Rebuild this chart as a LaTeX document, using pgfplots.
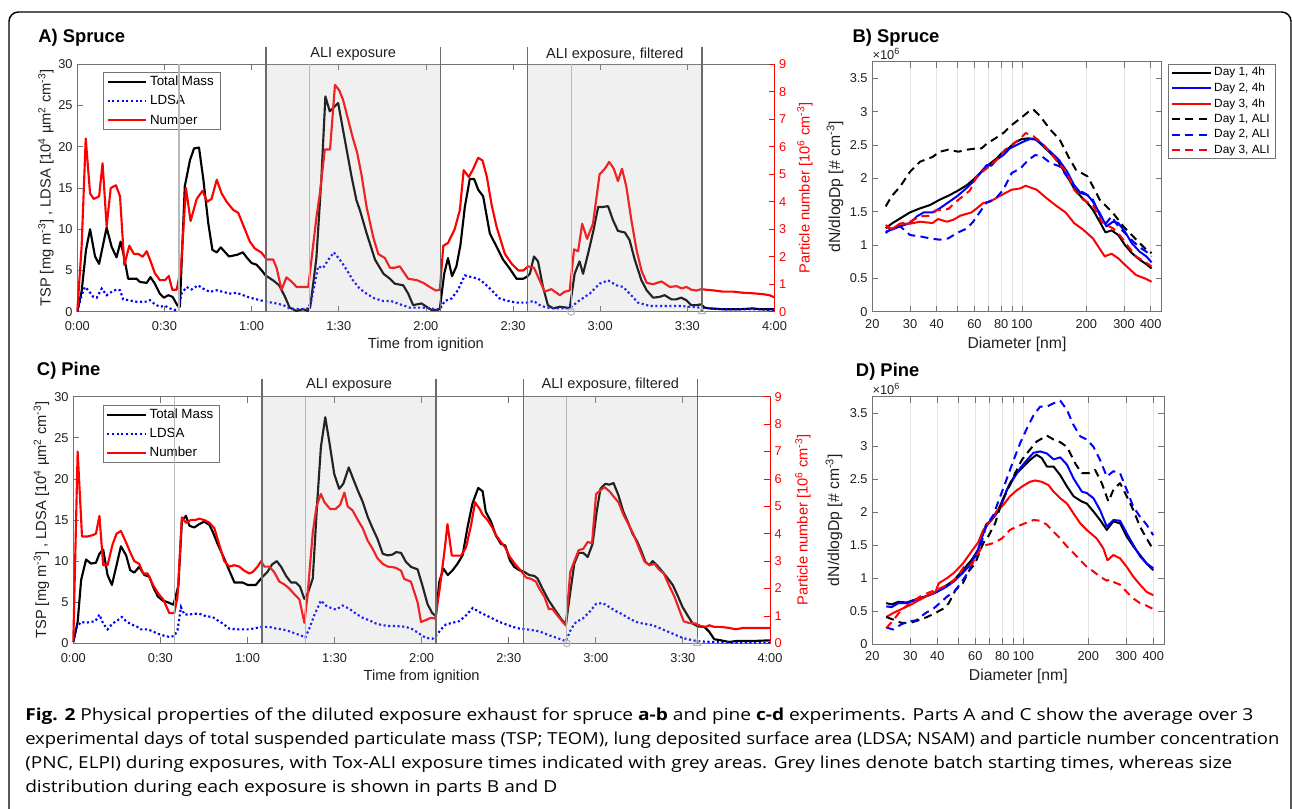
\documentclass[border=0pt]{standalone}
\usepackage{pgfplots}
\pgfplotsset{compat=1.18}
\usepackage{fontspec}
\usepackage{graphicx}
\setmainfont{Liberation Sans}
\newfontfamily\capfont{Open Sans}

\definecolor{axgray}{gray}{0.45}
\definecolor{txt}{gray}{0.12}
\definecolor{lightline}{gray}{0.72}
\definecolor{darkline}{gray}{0.42}
\definecolor{shade}{gray}{0.70}

\pgfplotsset{
  myBase/.style={scale only axis, anchor=south west, tick align=inside,
    axis line style={axgray, line width=0.6pt},
    every tick/.style={axgray, line width=0.6pt}, major tick length=4.5pt,
    ticklabel style={font=\fontsize{9.6}{11}\selectfont, text=txt},
    /pgf/number format/assume math mode=true,
    label style={font=\fontsize{11}{13}\selectfont, text=txt},
    legend cell align=left,
    legend image code/.code={\draw[##1] (0pt,0pt) -- (29pt,0pt);},
  },
  timeAx/.style={myBase, xmin=0, xmax=240, xtick={0,30,...,240},
    xticklabels={0:00,0:30,1:00,1:30,2:00,2:30,3:00,3:30,4:00},
    xticklabel style={yshift=-3.8pt}},
  massL/.style={black, line width=1.6pt, line join=round},
  ldsaL/.style={blue, line width=1.6pt, dash pattern=on 1.6pt off 1.9pt},
  numbL/.style={red, line width=1.6pt, line join=round},
  sizeAx/.style={myBase, xmin=20, xmax=450, ymin=0, ymax=3.75, clip=false,
    xtick={20,30,40,50,60,70,80,90,100,200,300,400},
    xticklabels={20,30,40,{},60,{},80,{},100,200,300,400},
    xticklabel style={yshift=-2.2pt},
    ytick={0,0.5,1,1.5,2,2.5,3,3.5},
    xtick pos=both, ytick pos=both, xmajorgrids, grid style={gray!22, line width=0.5pt},
    label style={font=\fontsize{11.8}{13}\selectfont, text=txt},
    xlabel={Diameter [nm]},
    xlabel style={at={(axis description cs:0.5,0)}, anchor=base, yshift=-27.6pt},
  },
  sizeL/.style={line width=1.5pt, line join=round},
  dshL/.style={line width=1.5pt, line join=round, dash pattern=on 6pt off 4pt},
  shadeOv/.style={draw=none, fill=shade, fill opacity=0.2, forget plot},
  tsLegend/.style={legend style={at={(#1)}, anchor=north west, draw=axgray, fill=white,
    font=\fontsize{10}{11}\selectfont, inner xsep=2.5pt, inner ysep=1.3pt, row sep=3.2pt,
    nodes={inner ysep=1.3pt, inner xsep=2pt}}},
}

\begin{document}
\begin{tikzpicture}
\path[use as bounding box] (0pt,0pt) rectangle (969pt,-606pt);

% ===================== Panel A =====================
\begin{axis}[timeAx, at={(57.975pt,-233.775pt)}, width=522.9pt, height=185.55pt,
  ymin=0, ymax=30, ytick={0,5,...,30}, xtick pos=both, ytick pos=left,
  xlabel={Time from ignition},
  xlabel style={at={(axis description cs:0.5,0)}, anchor=base, yshift=-27.8pt},
  tsLegend={0.0369,0.968},
]
\addplot[massL] coordinates {(0,0) (1.5,2.5) (3,7.5) (4.4,10) (6.1,6.7) (7.5,5.8) (10.1,10.2) (11.8,7.9) (13.5,6.6) (14.9,8.5) (16.1,6.7) (17.5,4.0) (20.4,4.0) (21.6,3.6) (23.9,3.5) (25.2,4.2) (26.7,3.4) (28.4,2.2) (29.8,1.7) (31.3,2.0) (32.8,1.8) (34.4,0.8) (35.3,0.6) (37.0,15.2) (38.8,18.4) (40.2,19.8) (41.9,19.9) (43.4,16) (45.1,10.7) (46.5,7.5) (48,7.2) (49.4,7.8) (52.2,6.7) (55,6.9) (57,7.2) (58.5,6.5) (60,5.9) (61.7,5.7) (63.5,5.0) (64.8,4.4) (67.4,3.8) (69.5,3.2) (71.5,1.8) (73.1,0.5) (75.4,0.1) (77.7,0.3) (79.4,0.1) (80.2,0.6) (82.3,6.5) (84,16) (85.4,26.1) (86.9,24.3) (89.8,25.3) (91.5,22) (94.4,16.4) (96.1,13.5) (97.3,12.3) (99.6,9.5) (102.5,6.3) (105.4,4.6) (107.6,4.0) (109.3,3.4) (112.2,3.2) (113.9,2.2) (115.6,0.8) (118.5,1.0) (120.2,0.6) (122,0.2) (124.2,0.2) (124.8,0.4) (126.3,4.6) (127.6,6.5) (129,4.3) (130.5,5.5) (131.9,8.1) (133.4,12.7) (135.1,16.1) (136.6,16.1) (138,14.8) (139.7,14.0) (142,9.5) (144.3,7.9) (146.6,6.3) (148.9,5.2) (151.2,4.0) (153.5,4.0) (154.6,4.2) (155.8,4.6) (157.2,6.7) (158.6,6.1) (160.3,3.0) (162,0.8) (163.8,0.4) (166.1,0.6) (168.4,0.5) (169.5,0.4) (171.2,4.6) (172.9,6.1) (174.1,4.6) (176,7.3) (177.7,9.9) (179.3,12.7) (181,12.7) (182.7,12.8) (184.4,11.1) (186.1,9.8) (188.5,9.6) (190.1,8.7) (191.9,6.3) (194.2,3.8) (196,2.6) (198.2,1.7) (200.5,1.8) (202.2,2.0) (204.5,1.5) (206.2,1.5) (207.9,1.7) (209.6,1.4) (211.3,0.8) (213.1,0.8) (214.8,0.9) (215.9,0.5) (217.7,0.4) (222.3,0.3) (228,0.3) (232.6,0.4) (235,0.3) (240,0.3)};
\addlegendentry{Total Mass}
\addplot[ldsaL] coordinates {(0,0) (1.5,2.0) (2.6,3.0) (3.8,2.6) (5.5,1.8) (6.7,1.7) (8.4,2.8) (10.1,2.0) (11.8,2.4) (13.5,2.7) (14.7,2.6) (15.8,1.5) (17.6,1.4) (20.4,1.2) (23.3,1.2) (25,1.4) (26.7,0.9) (28.4,0.6) (30.2,0.7) (31.9,0.4) (33.6,0.2) (34.8,0.5) (35.9,2.2) (37.6,3.0) (39.3,2.7) (41.6,3.2) (43.3,2.8) (45.6,2.4) (48,2.6) (50.2,2.4) (52.5,2.2) (54.8,2.3) (57.1,2.0) (59.4,1.7) (61.7,1.5) (65.2,1.2) (68.6,1.0) (70.9,0.8) (73.2,0.4) (76.6,0.3) (79.5,0.4) (80.6,1.4) (82.9,5.5) (84.6,5.3) (86.4,6.3) (88.3,7.2) (90.4,6.3) (92.7,5.1) (94.9,3.8) (97.2,2.8) (99.5,2.2) (102.4,1.6) (105.3,1.3) (108,1.3) (111,0.9) (114.4,0.5) (119,0.5) (123.6,0.3) (124.8,0.3) (126.5,1.3) (128.8,1.6) (131,2.6) (133.4,4.4) (135.7,4.2) (138,4.0) (140.3,3.4) (142.6,2.6) (145.4,1.6) (148.3,1.3) (151.2,1.1) (154.6,1.1) (157.1,1.3) (159.2,0.8) (161.5,0.5) (165,0.4) (168.4,0.4) (170.1,0.6) (173,1.4) (176.4,2.2) (179.8,3.4) (182.7,3.8) (185.6,3.2) (187.9,3.0) (190.1,2.2) (193,1.1) (197,0.7) (202.8,0.7) (207.4,0.7) (210.8,0.6) (214.2,0.5) (217.7,0.4) (222.3,0.3) (233.8,0.3) (240,0.2)};
\addlegendentry{LDSA}
\addlegendimage{numbL}
\addlegendentry{Number}
\end{axis}

\begin{axis}[timeAx, at={(57.975pt,-233.775pt)}, width=522.9pt, height=185.55pt,
  ymin=0, ymax=9, ytick={0,1,...,9}, axis x line=none, axis y line*=right, clip=false,
  axis line style={red}, every tick/.style={red, line width=0.6pt},
  yticklabel style={text=red},
]
\addplot[numbL] coordinates {(0,0) (1.5,2.4) (2.9,6.3) (4.4,4.3) (5.7,4.1) (7.5,4.2) (8.7,5.4) (10.1,3.1) (11.5,4.5) (13.3,4.6) (14.7,4.2) (16.2,1.7) (17.9,2.4) (19.5,2.1) (21,2.1) (22.5,2.0) (23.9,2.2) (25,1.9) (26.7,1.4) (28.4,1.15) (30.2,1.15) (31.5,1.3) (32.7,0.8) (34.2,0.8) (35.7,1.6) (37.4,4.5) (39,3.3) (41.1,4.1) (43.1,4.4) (44.7,4.0) (46.2,4.1) (48,4.8) (49.7,4.3) (51.4,4.0) (53.7,3.7) (55.4,3.6) (57.1,3.15) (59.4,2.55) (61.1,2.3) (63.4,2.15) (65.2,1.9) (67.4,1.9) (68.6,1.6) (70.3,0.8) (72,1.25) (73.7,1.1) (75.5,0.9) (77.8,0.9) (79.5,0.9) (82.4,3.5) (83.5,4.3) (85.2,5.9) (87,5.9) (88.7,8.25) (90.2,8.05) (91.5,7.7) (93.2,7.0) (94.9,6.3) (96.3,5.8) (97.8,5.0) (99.6,3.8) (101.9,2.7) (103.6,2.1) (105.9,1.95) (107.6,1.6) (109.3,1.6) (111,1.65) (113.9,1.2) (116.8,1.15) (119.1,1.05) (121.3,0.9) (123.4,0.77) (124.8,0.8) (126,2.4) (127.6,2.5) (129.9,3.0) (131.7,3.7) (133,5.15) (134.8,4.9) (136.3,5.2) (138,5.6) (139.5,5.5) (141,4.9) (142.6,3.9) (144.3,3.1) (147.2,2.1) (149.5,1.75) (151.8,1.5) (153.5,1.5) (155.2,1.65) (157.2,1.6) (158.6,1.27) (160.9,0.73) (163.2,0.82) (166.1,0.6) (167.8,0.73) (169.5,0.77) (171,2.27) (172.4,2.2) (173.8,3.2) (175.5,2.65) (177.5,3.2) (179.8,5.0) (181.6,5.2) (183.1,5.45) (184.7,5.2) (186.1,4.75) (187.5,5.2) (189,4.55) (190.7,3.35) (192.5,2.25) (194.2,1.5) (196,1.05) (198.2,1.0) (201.1,1.1) (204,0.9) (206.3,0.93) (208,0.85) (209.7,0.9) (211.4,0.8) (213.1,0.77) (214.8,0.82) (216.5,0.8) (219.4,0.77) (222.3,0.73) (225.7,0.73) (229.1,0.69) (232.6,0.67) (236,0.64) (238.3,0.6) (240,0.52)};
\addplot[shadeOv] coordinates {(65,0) (65,9) (125,9) (125,0)} \closedcycle;
\addplot[shadeOv] coordinates {(155,0) (155,9) (215,9) (215,0)} \closedcycle;
\addplot[lightline, line width=0.8pt] coordinates {(35,0) (35,9)};
\addplot[lightline, line width=0.8pt] coordinates {(80,0) (80,9)};
\addplot[lightline, line width=0.8pt] coordinates {(170,0) (170,9)};
\addplot[darkline, line width=1pt] coordinates {(65,0) (65,9.64)};
\addplot[darkline, line width=1pt] coordinates {(125,0) (125,9.64)};
\addplot[darkline, line width=1pt] coordinates {(155,0) (155,9.64)};
\addplot[darkline, line width=1pt] coordinates {(215,0) (215,9.64)};
\addplot[only marks, mark=o, mark size=2.6pt, lightline, mark options={line width=0.8pt}] coordinates {(170,0)};
\addplot[only marks, mark=triangle, mark size=3pt, lightline, mark options={line width=0.8pt}] coordinates {(215,0)};
\node[font=\fontsize{10.9}{12}\selectfont, text=txt] at (axis cs:95,9.36) {ALI exposure};
\node[font=\fontsize{10.9}{12}\selectfont, text=txt] at (axis cs:185,9.36) {ALI exposure, filtered};
\end{axis}

% ===================== Panel C =====================
\begin{axis}[timeAx, at={(54.975pt,-482.475pt)}, width=522.5pt, height=184.95pt,
  ymin=0, ymax=30, ytick={0,5,...,30}, xtick pos=both, ytick pos=left,
  xlabel={Time from ignition},
  xlabel style={at={(axis description cs:0.5,0)}, anchor=base, yshift=-27.8pt},
  tsLegend={0.042,0.966},
]
\addplot[massL] coordinates {(0,0.15) (1.5,2.6) (2.7,7.7) (4.4,10.2) (6.1,9.7) (7.8,9.8) (9,10.9) (10.3,11.4) (11.8,8.3) (13.3,7.1) (14.9,9.5) (16.4,11.8) (18.2,10.7) (19.6,8.9) (21,8.6) (22.7,9.3) (24.5,8.3) (26.2,8.1) (27.6,6.8) (29.1,5.7) (30.8,5.2) (32.5,5.0) (34.5,4.7) (36.2,7.0) (37.4,14.9) (38.8,15.5) (40,14.3) (41.7,14.1) (43.4,14.5) (45.1,14.8) (46.9,14.4) (48,13.6) (49.7,12.1) (51.5,10.7) (53.2,9.3) (55.5,7.4) (58.3,7.4) (60.1,7.1) (62.9,7.1) (65.2,8.1) (66.9,8.7) (68.5,9.6) (70.1,10.0) (71.6,9.3) (73.3,8.2) (75,7.4) (76.7,7.4) (78.1,6.9) (79.6,5.4) (80.7,6.0) (82.5,7.9) (84,17) (85.3,23.9) (86.8,27.5) (88.2,24.5) (89.9,20.6) (91.6,18.8) (93,19.4) (94.9,21.4) (96.2,20.2) (98,18.6) (99.7,17.2) (101.4,15.4) (103.1,14.0) (104.8,12.7) (106.6,10.9) (108.3,10.7) (110,10.8) (111.2,11.1) (112.9,11.0) (114.6,9.9) (116.3,9.3) (118.6,9.0) (120.3,7.0) (122,4.8) (123.6,3.7) (124.9,3.3) (126.1,7.5) (127.5,9.1) (129,8.3) (130.7,8.9) (132.4,9.7) (134.1,10.7) (135.8,14.1) (137.5,17) (139.5,18.9) (141,18.5) (142.1,16.0) (143.9,14.8) (145.6,13.1) (147.3,12.1) (148.8,11.9) (150.4,10.1) (151.9,9.3) (153.6,8.9) (155.3,8.7) (157.1,8.3) (158.8,8.2) (159.9,7.9) (161.7,6.6) (163.8,5.2) (165.7,4.2) (168,3.0) (169.7,2.3) (171.2,6.2) (172.6,9.7) (174.1,11.0) (175.7,11.0) (177.2,10.5) (178.9,12.1) (180.3,16.0) (181.6,18.8) (183.3,19.4) (184.7,19.3) (186.1,19.5) (187.8,18.0) (189.5,16.0) (191,14.8) (192.7,13.3) (194.1,12.5) (195.6,11.3) (197.1,9.9) (198.5,9.5) (199.6,10.0) (201.3,9.4) (203,8.7) (204.8,7.9) (206.5,7.1) (208.2,5.8) (209.9,4.4) (211.6,3.4) (213.4,2.4) (215.1,2.06) (217.4,2.0) (219.1,1.4) (220.8,0.5) (223.1,0.36) (226,0.16) (228.3,0.28) (234,0.28) (240,0.36)};
\addlegendentry{Total Mass}
\addplot[ldsaL] coordinates {(0,0.15) (1.2,2.0) (2.7,2.6) (4.4,2.5) (6.1,2.6) (7.6,2.7) (9,3.5) (10.3,2.4) (11.8,1.7) (13.5,2.4) (15.3,2.8) (16.7,3.2) (18.2,2.7) (19.9,2.3) (21.6,2.1) (23.3,1.7) (25.6,1.7) (27.3,1.46) (29.1,1.17) (30.8,0.97) (33.1,0.77) (34.8,0.89) (35.9,1.6) (37.1,4.4) (38.3,3.5) (40,3.5) (41.7,3.6) (43.4,3.6) (45.7,3.3) (48,3.2) (49.7,2.8) (51.5,2.4) (53.7,1.8) (56,1.7) (58.3,1.7) (60.6,1.7) (62.9,1.86) (65.2,2.0) (67.5,2.0) (69.8,1.8) (72.1,1.7) (74.4,1.46) (76.7,1.17) (78.4,0.97) (79.9,0.68) (81.3,1.8) (83,3.4) (85.3,5.2) (87,4.6) (88.8,4.3) (90.5,4.1) (92.8,4.6) (95.1,4.2) (97.4,3.6) (99.7,3.1) (102,2.8) (104.3,2.4) (106.6,2.2) (108.9,2.1) (111.2,2.1) (114.6,2.0) (116.9,1.7) (119.2,1.17) (121.5,0.65) (123.8,0.56) (124.9,0.89) (126.7,1.7) (128.4,2.3) (130.7,2.5) (133,2.7) (135.3,3.4) (137.6,4.3) (139.9,3.8) (142.2,3.4) (144.5,3.0) (146.8,2.6) (149.1,2.3) (151.4,2.0) (153.6,1.8) (157.1,1.66) (160.5,1.46) (164,0.97) (167.4,0.56) (169.7,0.24) (171.4,1.7) (173.2,2.6) (175.5,3.0) (177.8,3.8) (180.1,4.8) (182.4,4.9) (184.7,4.4) (187,3.9) (189.3,3.5) (191.6,3.0) (193.9,2.6) (196.2,2.4) (199.6,2.2) (203,1.7) (206.5,1.17) (209.9,0.65) (213.4,0.36) (215.7,0.24) (220.2,0.16) (228.3,0.08) (240,0.08)};
\addlegendentry{LDSA}
\addlegendimage{numbL}
\addlegendentry{Number}
\end{axis}

\begin{axis}[timeAx, at={(54.975pt,-482.475pt)}, width=522.5pt, height=184.95pt,
  ymin=0, ymax=9, ytick={0,1,...,9}, axis x line=none, axis y line*=right, clip=false,
  axis line style={red}, every tick/.style={red, line width=0.6pt},
  yticklabel style={text=red},
]
\addplot[numbL] coordinates {(0,0.05) (1.5,7.0) (3,3.9) (5,3.9) (6.7,3.95) (7.8,4.0) (9,4.65) (10.3,2.85) (11.8,2.85) (13.5,3.6) (14.9,4.0) (16.4,4.1) (17.9,3.75) (19.5,3.35) (21,3.0) (22.7,2.9) (24.1,2.55) (25.6,2.55) (27.6,2.1) (29.4,1.8) (31,1.6) (33.1,1.1) (34.8,1.1) (35.9,1.7) (37.4,4.6) (38.8,4.4) (40.5,4.5) (42,4.5) (43.4,4.55) (45.1,4.5) (46.9,4.4) (48.6,4.2) (50.3,3.6) (52,3.0) (53.7,2.8) (55.5,2.85) (57.2,2.8) (58.9,2.65) (60.6,2.55) (61.8,2.6) (63.5,2.8) (64.7,3.0) (65.8,2.8) (67.5,2.8) (69.2,2.6) (71,2.25) (72.7,2.15) (74.4,2.0) (76.1,1.8) (77.9,1.6) (79.6,0.75) (80.7,1.75) (82.5,4.05) (83.8,5.0) (85.3,5.45) (86.5,5.15) (88.5,4.9) (90.3,4.9) (91.9,5.05) (93.4,5.5) (94.5,5.0) (96.2,4.85) (98,4.5) (99.7,4.2) (101.4,3.75) (103.1,3.45) (104.8,3.1) (106.6,2.9) (108.3,2.8) (110,2.78) (111.2,2.75) (112.9,2.65) (114,2.35) (116.3,2.25) (118.6,1.5) (119.8,0.78) (121.5,0.85) (123.2,0.93) (124.7,0.9) (126.1,1.9) (127.8,3.3) (128.9,4.35) (130.4,3.2) (132.4,3.2) (133.6,3.2) (135.3,3.5) (137,4.3) (138.4,5.15) (140,4.9) (141,4.7) (142.7,4.5) (144.2,4.25) (145.6,3.95) (147.3,3.7) (148.8,3.5) (150.4,3.15) (152.5,2.85) (154.2,2.65) (156,2.4) (157.7,2.35) (159.4,2.25) (160.5,2.0) (162.3,1.7) (163.8,1.25) (165.1,1.25) (166.9,1.0) (168.6,0.78) (169.7,0.65) (171.2,2.6) (172.6,3.0) (174.1,3.4) (175.7,3.45) (177.2,3.7) (178.7,3.65) (180.1,5.45) (181.8,5.6) (183,5.7) (184.7,5.55) (186.2,5.35) (187.8,5.15) (189.5,4.7) (191.2,4.35) (192.9,4.0) (194.6,3.55) (196.7,3.0) (198.5,2.85) (200.2,2.9) (201.7,2.7) (203.4,2.55) (205.3,2.1) (207.1,1.7) (208.5,1.3) (210.3,0.8) (212.2,0.74) (214.5,0.72) (216.2,0.62) (218,0.6) (219.1,0.66) (220.8,0.6) (223.1,0.6) (226,0.56) (228.3,0.51) (230.6,0.56) (240,0.56)};
\addplot[shadeOv] coordinates {(65,0) (65,9) (125,9) (125,0)} \closedcycle;
\addplot[shadeOv] coordinates {(155,0) (155,9) (215,9) (215,0)} \closedcycle;
\addplot[lightline, line width=0.8pt] coordinates {(35,0) (35,9)};
\addplot[lightline, line width=0.8pt] coordinates {(80,0) (80,9)};
\addplot[lightline, line width=0.8pt] coordinates {(170,0) (170,9)};
\addplot[darkline, line width=1pt] coordinates {(65,0) (65,9.64)};
\addplot[darkline, line width=1pt] coordinates {(125,0) (125,9.64)};
\addplot[darkline, line width=1pt] coordinates {(155,0) (155,9.64)};
\addplot[darkline, line width=1pt] coordinates {(215,0) (215,9.64)};
\addplot[only marks, mark=o, mark size=2.6pt, lightline, mark options={line width=0.8pt}] coordinates {(170,0)};
\addplot[only marks, mark=triangle, mark size=3pt, lightline, mark options={line width=0.8pt}] coordinates {(215,0)};
\node[font=\fontsize{10.9}{12}\selectfont, text=txt] at (axis cs:95,9.42) {ALI exposure};
\node[font=\fontsize{10.9}{12}\selectfont, text=txt] at (axis cs:185,9.42) {ALI exposure, filtered};
\end{axis}

% ===================== Panel B =====================
\begin{axis}[sizeAx, xmode=log, at={(654.225pt,-233.775pt)}, width=217.05pt, height=187.5pt,
  legend style={at={(1,1)}, anchor=north west, xshift=4.7pt, yshift=-1.7pt,
    draw=axgray, fill=white, font=\fontsize{8.9}{10}\selectfont,
    inner xsep=2pt, inner ysep=1.2pt, row sep=1.6pt, nodes={inner ysep=1.1pt, inner xsep=2pt}},
]
\addplot[sizeL, black] coordinates {(23.1,1.25) (24.6,1.32) (27,1.40) (30,1.49) (33.4,1.55) (37.2,1.6) (41.3,1.68) (46,1.75) (50.5,1.82) (55.4,1.9) (60.2,2.0) (65.9,2.13) (70.9,2.22) (76.2,2.3) (80.5,2.38) (86.5,2.45) (93,2.54) (99.9,2.59) (107.4,2.6) (115.5,2.59) (124.1,2.5) (135.8,2.38) (148.6,2.24) (162.8,2.03) (175.3,1.85) (188.3,1.73) (202.5,1.63) (214.6,1.53) (230.9,1.35) (245.8,1.19) (262.4,1.22) (282,1.15) (303,1.0) (325.9,0.88) (355,0.78) (375,0.73) (403.5,0.65)};
\addlegendentry{Day 1, 4h}
\addplot[sizeL, blue] coordinates {(23.1,1.2) (24.6,1.23) (27,1.28) (30,1.33) (32.3,1.43) (34.8,1.49) (38.2,1.49) (41.3,1.55) (45.3,1.64) (49.7,1.73) (54.5,1.84) (59.2,1.95) (64.8,2.1) (68.5,2.2) (72,2.19) (76.2,2.28) (81.9,2.35) (87.9,2.45) (94.5,2.5) (101.5,2.55) (109,2.59) (117.2,2.58) (125.9,2.5) (135.8,2.4) (148.6,2.28) (162.8,2.1) (175.3,1.9) (188.3,1.78) (202.5,1.75) (214.6,1.65) (230.9,1.48) (248,1.28) (266.6,1.35) (282,1.33) (303,1.2) (325.9,1.03) (355,0.9) (381.3,0.83) (403.5,0.74)};
\addlegendentry{Day 2, 4h}
\addplot[sizeL, red] coordinates {(23.1,1.27) (24.6,1.24) (27,1.32) (30,1.32) (33.4,1.35) (38.2,1.33) (40.6,1.39) (44.6,1.35) (47.9,1.38) (51.5,1.44) (58.2,1.49) (61.5,1.55) (65.9,1.63) (70.9,1.65) (79.2,1.74) (89.6,1.83) (98.4,1.85) (104,1.89) (117.2,1.83) (130.7,1.7) (145.9,1.58) (159.9,1.49) (175.3,1.33) (193.3,1.23) (214.6,1.1) (243.7,0.83) (262.4,0.87) (282,0.8) (308.4,0.68) (341.5,0.55) (375,0.5) (403.5,0.45)};
\addlegendentry{Day 3, 4h}
\addplot[dshL, black] coordinates {(23.1,1.58) (24.6,1.73) (27,1.88) (30,2.1) (33.4,2.25) (38.2,2.32) (41.3,2.4) (45.3,2.43) (50.5,2.4) (55.4,2.43) (61.5,2.45) (64.8,2.45) (68.5,2.52) (75.1,2.6) (81.9,2.68) (89.6,2.8) (98.4,2.9) (107.4,3.0) (113.4,3.03) (121.9,2.93) (135.8,2.73) (150.3,2.58) (164.6,2.33) (178.7,2.13) (202.5,2.03) (214.6,1.88) (230.9,1.68) (248,1.58) (266.6,1.48) (297.8,1.28) (325.9,1.15) (355,1.03) (381.3,0.93) (403.5,0.88)};
\addlegendentry{Day 1, ALI}
\addplot[dshL, blue] coordinates {(23.1,1.18) (24.6,1.25) (27,1.28) (30,1.15) (33.4,1.13) (37.2,1.1) (41.3,1.08) (45.3,1.1) (49.7,1.18) (55.4,1.25) (59.2,1.35) (63.8,1.5) (68.5,1.64) (75.1,1.69) (81.9,1.83) (89.6,2.08) (98.4,2.15) (107.4,2.28) (115.5,2.35) (124.1,2.33) (135.8,2.23) (150.3,2.18) (164.6,2.0) (178.7,1.85) (202.5,1.75) (214.6,1.68) (230.9,1.45) (248,1.33) (262.4,1.43) (282,1.28) (303,1.18) (331.8,1.05) (361,0.95) (381.3,0.9) (403.5,0.83)};
\addlegendentry{Day 2, ALI}
\addplot[dshL, red] coordinates {(23.1,1.3) (24.6,1.24) (27,1.32) (30,1.35) (33.4,1.43) (37.2,1.44) (39.9,1.52) (45.3,1.54) (48.8,1.64) (52.4,1.72) (57.2,1.82) (61.5,2.03) (68.5,2.15) (76.2,2.28) (83.4,2.43) (91.2,2.52) (98.4,2.6) (104.2,2.68) (113.4,2.63) (124.1,2.53) (135.8,2.38) (148.6,2.23) (162.8,2.08) (175.3,1.83) (193.3,1.68) (214.6,1.6) (235.6,1.35) (248,1.3) (266.6,1.25) (288,1.14) (313.6,0.98) (341.5,0.83) (375,0.75) (403.5,0.68)};
\addlegendentry{Day 3, ALI}
\node[anchor=base west, font=\fontsize{9.6}{11}\selectfont, text=txt, inner sep=0pt, yshift=2pt] at (rel axis cs:0,1) {×10\textsuperscript{6}};
\end{axis}

% ===================== Panel D =====================
\begin{axis}[sizeAx, xmode=log, at={(654.225pt,-483pt)}, width=219pt, height=185.475pt]
\addplot[sizeL, black] coordinates {(23.2,0.62) (24.6,0.6) (26.4,0.64) (28.8,0.63) (32,0.68) (35.9,0.73) (39.9,0.79) (43.7,0.88) (47.8,0.97) (52.5,1.12) (57.5,1.27) (61.8,1.43) (65.3,1.68) (67.2,1.81) (71.3,1.88) (75.3,1.98) (80.9,2.21) (86.8,2.44) (93.2,2.59) (100.1,2.69) (107.4,2.79) (115.3,2.87) (121.8,2.82) (128.8,2.69) (138.2,2.69) (148.4,2.56) (159.3,2.39) (171,2.24) (186.8,2.16) (196.9,2.13) (211.4,2.01) (226.9,1.88) (243.6,1.73) (261.5,1.86) (280.7,1.83) (301.3,1.63) (323.5,1.48) (347.3,1.35) (372.8,1.22) (400,1.12)};
\addplot[sizeL, blue] coordinates {(23.2,0.57) (24.6,0.56) (26.4,0.62) (28.8,0.62) (32,0.67) (35.9,0.73) (39.2,0.78) (43.7,0.86) (47.8,0.95) (52.5,1.08) (57.5,1.22) (61.8,1.43) (64.4,1.63) (67.2,1.78) (72.8,1.93) (78.3,2.06) (84,2.34) (90.2,2.51) (96.9,2.67) (104,2.79) (111.6,2.9) (119.8,2.92) (128.6,2.89) (138.2,2.8) (148.4,2.83) (159.3,2.72) (171,2.51) (186.8,2.31) (196.9,2.29) (211.4,2.21) (226.9,2.03) (243.6,1.78) (261.5,1.88) (280.7,1.87) (301.3,1.68) (323.5,1.5) (347.3,1.33) (372.8,1.22) (400,1.15)};
\addplot[sizeL, red] coordinates {(23.2,0.41) (25,0.47) (27.3,0.53) (29.9,0.59) (32.7,0.66) (35.9,0.73) (39.2,0.79) (40.6,0.92) (44.4,1.0) (47.8,1.08) (52.5,1.22) (57.5,1.4) (61.8,1.54) (65.3,1.73) (70.3,1.86) (75.5,2.02) (80.9,2.11) (86.8,2.24) (93.2,2.33) (100.1,2.4) (107.4,2.46) (113.4,2.48) (121.8,2.46) (130.8,2.41) (138.2,2.31) (148.4,2.21) (159.3,2.13) (171,1.98) (183.5,1.83) (196.9,1.73) (218.8,1.6) (235,1.45) (245.3,1.27) (261.5,1.35) (280.7,1.3) (301.3,1.17) (323.5,1.02) (347.3,0.9) (372.8,0.79) (400,0.74)};
\addplot[dshL, black] coordinates {(23.2,0.41) (25,0.37) (27.3,0.32) (29.9,0.32) (32.7,0.36) (35.9,0.41) (39.2,0.47) (42.8,0.54) (45.2,0.62) (48.6,0.82) (52.5,0.92) (55.8,1.1) (59.8,1.22) (65.3,1.53) (68.8,1.63) (74.1,1.83) (79.6,2.16) (85.4,2.36) (91.7,2.59) (98.4,2.79) (105.7,2.92) (115.3,3.07) (128.8,3.16) (138.2,3.1) (148.4,3.06) (159.3,2.99) (175.4,2.72) (186.8,2.59) (200.5,2.59) (215.3,2.64) (231,2.44) (248,2.16) (261.5,2.34) (280.7,2.44) (301.3,2.24) (323.5,2.03) (347.3,1.78) (372.8,1.6) (400,1.43)};
\addplot[dshL, blue] coordinates {(23.2,0.25) (25,0.22) (27.3,0.3) (29.4,0.34) (32,0.36) (35.3,0.47) (38.5,0.54) (41.4,0.63) (44.4,0.72) (47.8,0.79) (51.3,0.92) (55.1,1.07) (59.2,1.27) (63.6,1.5) (67.2,1.78) (72.8,1.96) (78.3,2.24) (84,2.51) (90.2,2.79) (96.9,3.05) (104,3.27) (111.6,3.47) (119.8,3.6) (128.6,3.6) (138.2,3.65) (148.4,3.69) (159.3,3.55) (171,3.32) (183.5,3.15) (196.9,3.1) (211.4,2.99) (226.9,2.79) (243.6,2.54) (261.5,2.62) (280.7,2.59) (301.3,2.34) (323.5,2.08) (347.3,1.93) (372.8,1.81) (400,1.65)};
\addplot[dshL, red] coordinates {(23.2,0.24) (25,0.36) (27.3,0.52) (29.9,0.62) (33.3,0.72) (37.1,0.79) (39.6,0.82) (42.8,0.87) (46,0.92) (49.5,1.02) (53.1,1.17) (57.5,1.2) (60.6,1.33) (63.6,1.44) (67.2,1.5) (72.8,1.53) (79.6,1.6) (86.8,1.73) (93.2,1.78) (101.8,1.83) (111.6,1.88) (119.8,1.87) (128.6,1.81) (138.2,1.7) (148.4,1.6) (159.3,1.48) (171,1.38) (183.5,1.27) (196.9,1.17) (211.4,1.1) (226.9,1.02) (243.6,0.96) (252.4,0.98) (266,0.93) (280.7,0.9) (301.3,0.79) (323.5,0.69) (347.3,0.62) (372.8,0.58) (400,0.53)};
\node[anchor=base west, font=\fontsize{9.6}{11}\selectfont, text=txt, inner sep=0pt, yshift=2pt] at (rel axis cs:0,1) {×10\textsuperscript{6}};
\end{axis}

% ===================== Titles, y labels, caption, border =====================
\begin{scope}[x=0.75pt, y=-0.75pt]
\node[anchor=base west, inner sep=0pt, font=\fontsize{13.8}{16}\bfseries\selectfont] at (38,42.7) {A) Spruce};
\node[anchor=base west, inner sep=0pt, font=\fontsize{13.8}{16}\bfseries\selectfont] at (852.3,42.7) {B) Spruce};
\node[anchor=base west, inner sep=0pt, font=\fontsize{13.8}{16}\bfseries\selectfont] at (36.7,375) {C) Pine};
\node[anchor=base west, inner sep=0pt, font=\fontsize{13.8}{16}\bfseries\selectfont] at (855.7,376.7) {D) Pine};
% y labels
\node[rotate=90, inner sep=0pt, font=\fontsize{11}{13}\selectfont, text=txt] at (46,188) {TSP [mg m\textsuperscript{-3}] , LDSA [10\textsuperscript{4} µm\textsuperscript{2} cm\textsuperscript{-3}]};
\node[rotate=90, inner sep=0pt, font=\fontsize{11}{13}\selectfont, text=txt] at (41.5,520) {TSP [mg m\textsuperscript{-3}] , LDSA [10\textsuperscript{4} µm\textsuperscript{2} cm\textsuperscript{-3}]};
\node[rotate=90, inner sep=0pt, font=\fontsize{11}{13}\selectfont, text=red] at (805,188) {Particle number [10\textsuperscript{6} cm\textsuperscript{-3}]};
\node[rotate=90, inner sep=0pt, font=\fontsize{11}{13}\selectfont, text=red] at (803,520) {Particle number [10\textsuperscript{6} cm\textsuperscript{-3}]};
\node[rotate=90, inner sep=0pt, font=\fontsize{11.8}{13}\selectfont, text=txt] at (835,186.7) {dN/dlogDp [\# cm\textsuperscript{-3}]};
\node[rotate=90, inner sep=0pt, font=\fontsize{11.8}{13}\selectfont, text=txt] at (834,520) {dN/dlogDp [\# cm\textsuperscript{-3}]};
% caption
\node[anchor=base west, inner sep=0pt] at (25,720) {\resizebox{921pt}{\height}{\capfont\fontsize{12.4}{15}\selectfont\textbf{Fig. 2} Physical properties of the diluted exposure exhaust for spruce \textbf{a-b} and pine \textbf{c-d} experiments. Parts A and C show the average over 3}};
\node[anchor=base west, inner sep=0pt] at (25,744.3) {\resizebox{940.5pt}{\height}{\capfont\fontsize{12.4}{15}\selectfont experimental days of total suspended particulate mass (TSP; TEOM), lung deposited surface area (LDSA; NSAM) and particle number concentration}};
\node[anchor=base west, inner sep=0pt] at (25,768.5) {\resizebox{905.25pt}{\height}{\capfont\fontsize{12.4}{15}\selectfont (PNC, ELPI) during exposures, with Tox-ALI exposure times indicated with grey areas. Grey lines denote batch starting times, whereas size}};
\node[anchor=base west, inner sep=0pt] at (25,792.8) {\resizebox{399pt}{\height}{\capfont\fontsize{12.4}{15}\selectfont distribution during each exposure is shown in parts B and D}};
\draw[line width=1.1pt, rounded corners=7pt] (9,12) rectangle (1291,860);
\end{scope}
\end{tikzpicture}
\end{document}
